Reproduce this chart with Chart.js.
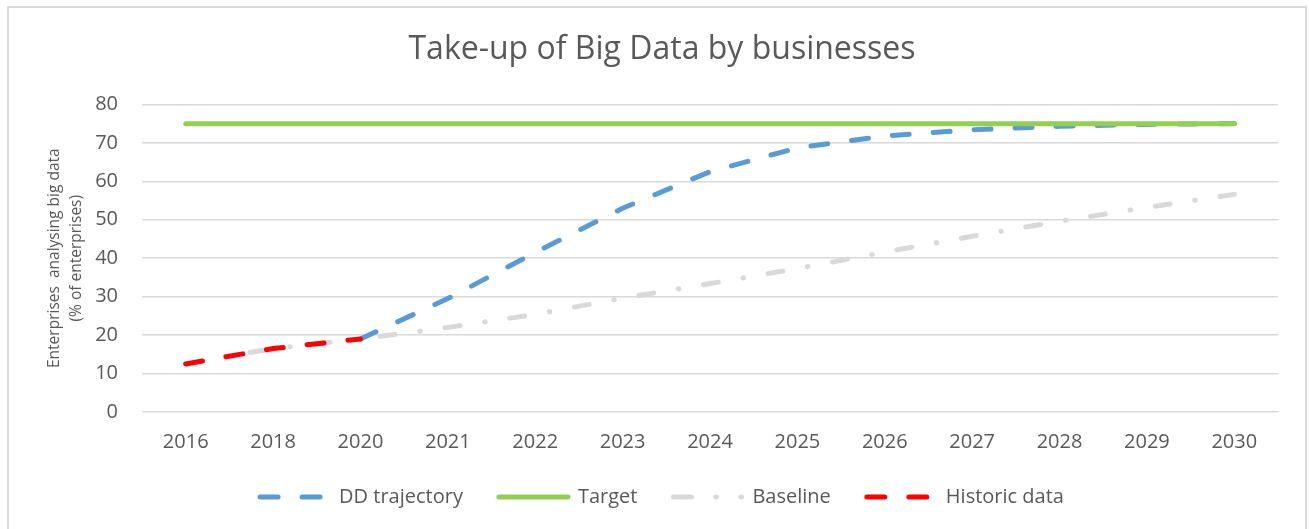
<!DOCTYPE html>
<html>
<head>
<meta charset="utf-8">
<script src="https://cdn.jsdelivr.net/npm/chart.js@4"></script>
<style>
  html, body { margin: 0; padding: 0; background: #ffffff; }
  #wrap { width: 1309px; height: 529px; position: relative; }
</style>
</head>
<body>
<div id="wrap"><canvas id="c" width="1309" height="529"></canvas></div>
<script>
const categories = ['2016','2018','2020','2021','2022','2023','2024','2025','2026','2027','2028','2029','2030'];
const ddTrajectory = [null, null, 19, 29.5, 41.5, 53, 62.5, 68.7, 71.8, 73.4, 74.3, 74.8, 75];
const target = [75, 75, 75, 75, 75, 75, 75, 75, 75, 75, 75, 75, 75];
const baseline = [12.5, 16.5, 19, 22, 25.4, 29.6, 33.4, 37.3, 41.6, 45.7, 49.6, 53.2, 56.6];
const historic = [12.5, 16.5, 19, null, null, null, null, null, null, null, null, null, null];
const yTicks = [0, 10, 20, 30, 40, 50, 60, 70, 80];

const FONT = "'Open Sans', 'Noto Sans', sans-serif";
const TXT = '#595959';

const framePlugin = {
  id: 'frame',
  beforeDraw(chart) {
    const ctx = chart.ctx;
    ctx.save();
    ctx.fillStyle = '#ffffff';
    ctx.fillRect(0, 0, chart.width, chart.height);
    ctx.strokeStyle = '#d9d9d9';
    ctx.lineWidth = 2;
    ctx.beginPath();
    ctx.moveTo(8, chart.height + 5);
    ctx.lineTo(8, 7);
    ctx.lineTo(1306, 7);
    ctx.lineTo(1306, chart.height + 5);
    ctx.stroke();
    ctx.restore();
  }
};

const legendDashes = [[18, 24], [200, 1], [18, 24.5, 0.5, 24.5, 0.5, 100], [18, 24]];

new Chart(document.getElementById('c'), {
  type: 'line',
  data: {
    labels: categories,
    datasets: [
      { label: 'DD trajectory', data: ddTrajectory, borderColor: '#5b9bd5', backgroundColor: '#5b9bd5',
        borderWidth: 5, borderDash: [17, 24], borderCapStyle: 'round', pointRadius: 0, tension: 0, order: 4 },
      { label: 'Target', data: target, borderColor: '#92d050', backgroundColor: '#92d050',
        borderWidth: 5, borderCapStyle: 'round', pointRadius: 0, tension: 0, order: 3 },
      { label: 'Baseline', data: baseline, borderColor: '#d9d9d9', backgroundColor: '#d9d9d9',
        borderWidth: 5, borderDash: [15, 25, 0.5, 25], borderCapStyle: 'round', pointRadius: 0, tension: 0, order: 2 },
      { label: 'Historic data', data: historic, borderColor: '#ff0000', backgroundColor: '#ff0000',
        borderWidth: 5, borderDash: [17, 24], borderCapStyle: 'round', pointRadius: 0, tension: 0, order: 1 }
    ]
  },
  options: {
    responsive: false,
    animation: false,
    layout: { padding: { left: 46, right: 31, top: 0, bottom: 12 } },
    plugins: {
      title: {
        display: true,
        text: 'Take-up of Big Data by businesses',
        color: TXT,
        font: { family: FONT, size: 32, weight: 'normal', lineHeight: 1.2 },
        padding: { top: 31, bottom: 35 }
      },
      legend: {
        position: 'bottom',
        labels: {
          color: TXT,
          font: { family: FONT, size: 20 },
          usePointStyle: true,
          pointStyle: 'line',
          pointStyleWidth: 69,
          boxWidth: 69,
          padding: 36,
          generateLabels(chart) {
            return chart.data.datasets.map((ds, i) => ({
              text: ds.label,
              datasetIndex: i,
              fillStyle: ds.borderColor,
              strokeStyle: ds.borderColor,
              fontColor: TXT,
              lineWidth: 5,
              lineCap: 'round',
              lineDash: legendDashes[i],
              lineDashOffset: 0,
              pointStyle: 'line',
              hidden: false
            }));
          }
        }
      },
      tooltip: { enabled: false }
    },
    scales: {
      x: {
        offset: true,
        grid: { display: false, drawTicks: false },
        border: { display: false },
        ticks: { color: TXT, font: { family: FONT, size: 20 }, padding: 18, maxRotation: 0, autoSkip: false },
        afterFit(scale) { scale.height = 39; }
      },
      y: {
        min: 0, max: 80,
        afterBuildTicks(scale) { scale.ticks = yTicks.map(v => ({ value: v })); },
        grid: { color: '#d9d9d9', lineWidth: 1.5, drawTicks: false },
        border: { display: false },
        ticks: { color: TXT, font: { family: FONT, size: 20 }, padding: 24 },
        title: {
          display: true,
          text: ['Enterprises  analysing big data', '(% of enterprises)'],
          color: TXT,
          font: { family: FONT, size: 15.5, lineHeight: 1.4 },
          padding: { top: -2, bottom: 0 }
        },
        afterFit(scale) { scale.width = 96; }
      }
    }
  },
  plugins: [framePlugin]
});
</script>
</body>
</html>
